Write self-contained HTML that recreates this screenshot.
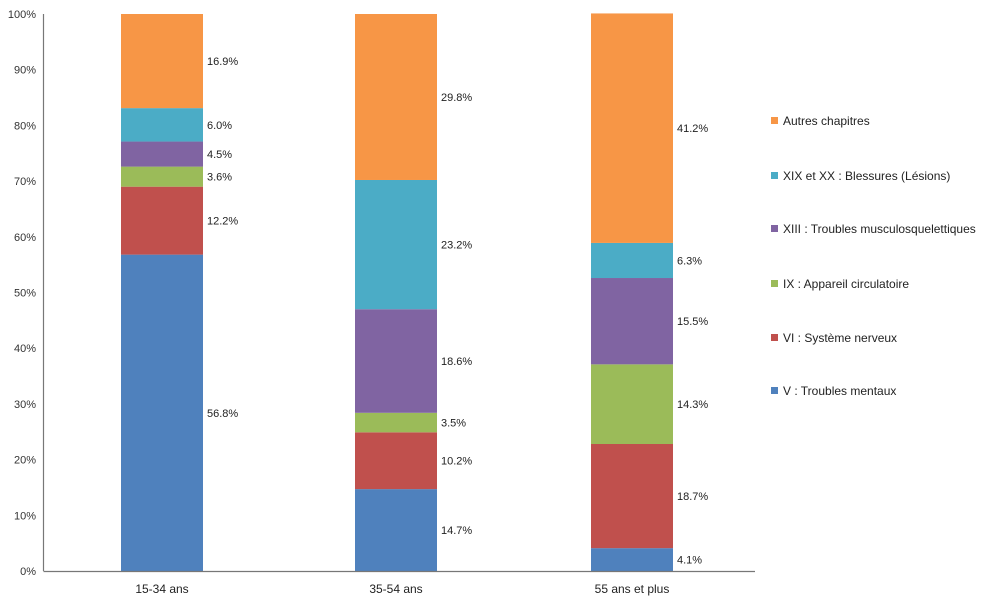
<!DOCTYPE html>
<html><head><meta charset="utf-8"><style>
body{margin:0;background:#fff;}
svg{display:block;font-family:"Liberation Sans","DejaVu Sans",sans-serif;}
</style></head><body>
<svg id="chart" width="1000" height="608" viewBox="0 0 1000 608"></svg>
<script>
const categories = ["15-34 ans","35-54 ans","55 ans et plus"];
const seriesNames = ["V : Troubles mentaux","VI : Système nerveux","IX : Appareil circulatoire","XIII : Troubles musculosquelettiques","XIX et XX : Blessures (Lésions)","Autres chapitres"];
const serie1 = [56.8,14.7,4.1];
const serie2 = [12.2,10.2,18.7];
const serie3 = [3.6,3.5,14.3];
const serie4 = [4.5,18.6,15.5];
const serie5 = [6.0,23.2,6.3];
const serie6 = [16.9,29.8,41.2];
const yTicks = [0,10,20,30,40,50,60,70,80,90,100];
const series=[serie1,serie2,serie3,serie4,serie5,serie6];
const colors=["#4f81bd","#c0504d","#9bbb59","#8064a2","#4bacc6","#f79646"];
const svg=document.getElementById('chart');
const NS='http://www.w3.org/2000/svg';
function mk(t,a,p){const e=document.createElementNS(NS,t);for(const k in a)e.setAttribute(k,a[k]);(p||svg).appendChild(e);return e;}
const y0=571,y1=14,x0=43.5;
function y(v){return y0-(v/100)*(y0-y1);}
const barX=[121,355,591],barW=82;
function xb(i){return barX[i];}
yTicks.forEach(t=>{const e=mk('text',{x:36,y:y(t)+4,'text-anchor':'end','font-size':11,fill:'#333'});e.textContent=t+'%';

});
categories.forEach((c,i)=>{
 let cum=0;
 series.forEach((s,j)=>{
  const v=s[i];
  const r=mk('rect',{x:xb(i),y:y(cum+v),width:barW,height:y(cum)-y(cum+v),fill:colors[j]});
  
  
  const t=mk('text',{x:xb(i)+barW+4,y:y(cum+v/2)+4,'font-size':11,fill:'#222'});
  t.textContent=v.toFixed(1)+'%';
  
  
  cum+=v;
 });
 const l=mk('text',{x:xb(i)+barW/2,y:593,'text-anchor':'middle','font-size':12,fill:'#222'});
 l.textContent=c;
 
 
});
const ax=mk('line',{x1:x0,y1:y1,x2:x0,y2:y0,stroke:'#777','stroke-width':1.2});


const bx=mk('line',{x1:x0,y1:y0+0.5,x2:755,y2:y0+0.5,stroke:'#777','stroke-width':1.2});


const legY=[391,338,284,229,176,121];
seriesNames.forEach((n,j)=>{
 const g=mk('g',{});
 
 
 mk('rect',{x:771,y:legY[j]-4,width:7,height:7,fill:colors[j]},g);
 const t=mk('text',{x:783,y:legY[j]+4,'font-size':12,fill:'#222'},g);
 t.textContent=n;
});
</script>
</body></html>
